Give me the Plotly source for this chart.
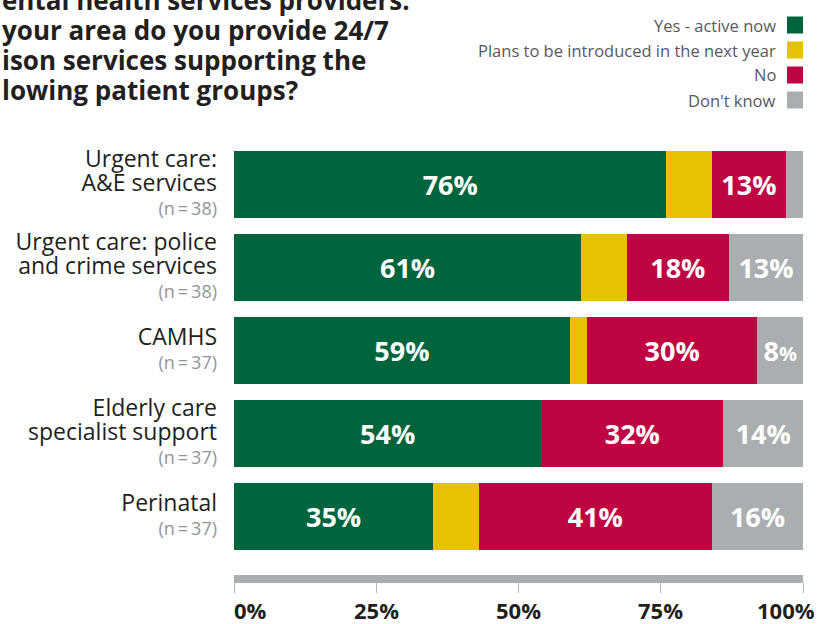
import plotly.graph_objects as go

# Survey data (percent of respondents)
groups = [
    "Urgent care:<br>A&E services",
    "Urgent care: police<br>and crime services",
    "CAMHS",
    "Elderly care<br>specialist support",
    "Perinatal",
]
sample_sizes = [38, 38, 37, 37, 37]
yes_active = [76, 61, 59, 54, 35]
plans_next_year = [8, 8, 3, 0, 8]
no_service = [13, 18, 30, 32, 41]
dont_know = [3, 13, 8, 14, 16]

series_names = ["Yes - active now", "Plans to be introduced in the next year", "No", "Don't know"]
series_values = [yes_active, plans_next_year, no_service, dont_know]
series_colors = ["#00643C", "#E5C300", "#BE0541", "#ABAEB0"]
series_labelled = [True, False, True, True]

x_ticks = [0, 25, 50, 75, 100]

title_lines = [
    "ental health services providers:",
    "your area do you provide 24/7",
    "ison services supporting the",
    "lowing patient groups?",
]

FONT = "Open Sans"
W, H = 827, 624
L, R, T, B = 234, 24, 143, 49


def px_x(px):
    return (px - L) / (W - L - R)


def px_y(py):
    return (H - B - py) / (H - T - B)


def bar_label(v):
    # single digit values get a smaller percent sign, like the original
    if v < 5:
        return ""
    if v < 10:
        return f"{v}<span style='font-size:20px'>%</span>"
    return f"{v}%"


def big(line, size):
    return f"<span style='font-size:{size}px'>{line}</span>"


tick_text = [
    "<br>".join(big(part, 23) for part in g.split("<br>"))
    + f"<br><span style='font-size:18px;color:#939598'>(n\u2009=\u2009{n})</span>"
    for g, n in zip(groups, sample_sizes)
]

fig = go.Figure()
for name, vals, color, labelled in zip(series_names, series_values, series_colors, series_labelled):
    fig.add_trace(
        go.Bar(
            y=tick_text,
            x=vals,
            name=name,
            orientation="h",
            marker_color=color,
            marker_line_width=0,
            text=[bar_label(v) if labelled else "" for v in vals],
            textposition="inside",
            insidetextanchor="middle",
            textangle=0,
            constraintext="none",
            textfont=dict(family=FONT, size=27, color="white", weight="bold"),
            hoverinfo="skip",
        )
    )

fig.update_layout(
    barmode="stack",
    bargap=0.19,
    width=W,
    height=H,
    margin=dict(l=L, r=R, t=T, b=B, pad=0),
    paper_bgcolor="white",
    plot_bgcolor="white",
    showlegend=False,
    font=dict(family=FONT, color="#231F20"),
)

# the tick font size sets the line spacing, the spans set the glyph size
fig.update_yaxes(
    range=[4.7, -0.5],
    showgrid=False,
    zeroline=False,
    showline=False,
    ticks="",
    ticklabelstandoff=16,
    tickfont=dict(family=FONT, size=18.5, color="#231F20"),
)

fig.update_xaxes(
    range=[0, 100],
    tickvals=x_ticks,
    showticklabels=False,
    showgrid=False,
    zeroline=False,
    showline=True,
    linewidth=8,
    linecolor="#ABAEB0",
    ticks="outside",
    ticklen=10,
    tickwidth=1,
    tickcolor="#B4B6B8",
)

# x tick labels (first one left aligned, last one nudged inwards)
anchors = ["left", "center", "center", "center", "right"]
shifts = [-2, 0, 0, 0, 14]
for v, anc, sh in zip(x_ticks, anchors, shifts):
    fig.add_annotation(
        x=v, xref="x", y=px_y(610), yref="paper",
        text=f"{v}%", showarrow=False,
        xanchor=anc, yanchor="middle", xshift=sh,
        font=dict(family=FONT, size=22, color="#231F20", weight="bold"),
    )

# custom legend: text on the left, swatch on the right
for i, (name, color) in enumerate(zip(series_names, series_colors)):
    yc = 25 + 25 * i
    fig.add_annotation(
        x=px_x(778), xref="paper", y=px_y(yc), yref="paper",
        text=name, showarrow=False, xanchor="right", yanchor="middle",
        font=dict(family=FONT, size=16.5, color="#58595B"),
    )
    fig.add_shape(
        type="rect", xref="paper", yref="paper",
        x0=px_x(787), x1=px_x(803), y0=px_y(yc - 8.5), y1=px_y(yc + 8.5),
        fillcolor=color, line_width=0,
    )

# title, cropped at the top left as in the source
fig.add_annotation(
    x=px_x(0), xref="paper", y=px_y(-20), yref="paper",
    text="<br>".join(big(line, 26) for line in title_lines), showarrow=False,
    xanchor="left", yanchor="top", align="left",
    font=dict(family=FONT, size=23, color="#231F20", weight="bold"),
)

# page has a default body margin; drop it so the figure sits at the window corner
fig.write_html(
    "out.html",
    config={"displayModeBar": False},
    post_script="document.body.style.margin='0';",
)
